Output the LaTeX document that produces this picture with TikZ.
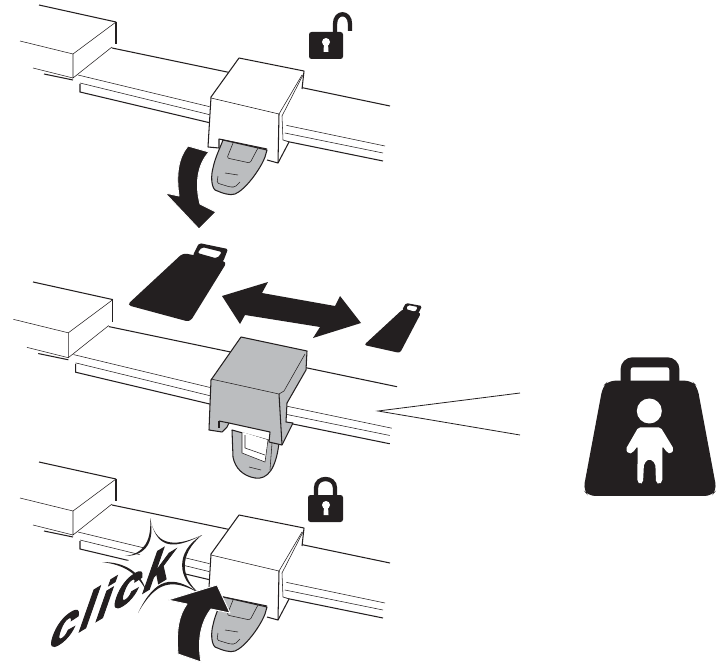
\documentclass[tikz,border=0pt]{standalone}
\usepackage{fontspec}
\setmainfont{Liberation Sans}
\newfontfamily\clickfont[LetterSpace=8,BoldFeatures={FakeBold=2.6,LetterSpace=8}]{Liberation Sans}
\definecolor{partgray}{HTML}{BBBDBF}
\definecolor{ink}{HTML}{231F20}
\tikzset{
  thinline/.style={draw=ink,line width=0.55pt},
  thickline/.style={draw=ink,line width=1.05pt},
  solidink/.style={fill=ink,draw=none},
  halo/.style={fill=ink,draw=white,line width=0.9pt,line join=round},
}
\newcommand{\railparts}{%
  \draw[thickline] (39,5) -- (116,22);
  \draw[thinline] (20,41) -- (73,54);
  \draw[thinline] (33,68) -- (73,78);
  \draw[thickline] (44,74) -- (73,80);
  \draw[thinline] (73,54) -- (116,22);
  \draw[thinline] (73,54) -- (73,78) -- (112,47);
  \draw[thickline] (116,22) -- (116,44);
  \draw[thickline] (112,48) -- (390,106);
  \draw[thinline] (78,75) -- (215,108);
  \draw[thinline] (80,83) -- (215,116);
  \draw[thickline] (80,84) -- (80,92) -- (215,124);
  \draw[thinline] (280,124) -- (385,146);
  \draw[thinline] (280,132) -- (383,153);
  \draw[thickline] (280,140) -- (383,161);
}
\newcommand{\whiteclamp}{%
  \fill[white] (239,58) -- (304,71) -- (302,88) -- (288,118) -- (283,140) -- (289,142) -- (278,163) -- (267,160) -- (267,149) -- (219,139) -- (219,148) -- (208,147) -- (210,98) -- cycle;
  \draw[thickline,line join=round] (211,97) -- (239,58) -- (304,71) -- (302,89);
  \draw[thickline,line join=round] (211,97) -- (208,147) -- (219,148) -- (219,139) -- (267,149);
  \draw[thickline,line join=round] (279,114) -- (278,163) -- (267,160);
  \draw[thickline,line join=round] (289,142) -- (278,163);
  \draw[thinline] (211,98) -- (279,114);
  \draw[thinline] (304,73) -- (282,116) -- (283,140) -- (289,142);
  \draw[thinline] (302,75) -- (279,114);
}
\newcommand{\grayLatch}{%
  \draw[thickline,fill=partgray,line join=round] (223,140) -- (267,150) -- (265,157) .. controls (260,170) and (245,190) .. (235,194) .. controls (230,196) and (222,193) .. (215,190) .. controls (211,186) and (211,175) .. (213,168) .. controls (215,158) and (220,148) .. (223,140) -- cycle;
  \draw[thinline,rounded corners=1.5pt] (233,143) -- (227,158) -- (250,163) -- (258,148);
  \draw[thinline] (225,173) -- (238,175);
  \draw[thinline,rounded corners=1.5pt] (218,176) -- (217,183) -- (230,187) -- (235,187) -- (240,182);
}
\begin{document}
\begin{tikzpicture}[x=1pt,y=-1pt]
\useasboundingbox (0,0) rectangle (722,666);
% --- top rack
\begin{scope}
  \railparts
  \whiteclamp
  \grayLatch
\end{scope}
\draw[halo] (188,146) -- (209,152) .. controls (197,165) and (195,185) .. (200,204) -- (216,212) -- (199,229) -- (165,193) -- (179,196) .. controls (176,175) and (178,158) .. (188,146) -- cycle;
% open padlock
\draw[ink,line width=4.3pt] (335,34) -- (335,24) .. controls (335,11) and (350,11) .. (350,24) -- (350,31);
\fill[ink,rounded corners=2.5pt] (309,32) rectangle (343,59);
\fill[white] (326,42) circle (4pt);
\fill[white] (324,43) -- (328,43) -- (328.5,52) -- (323.5,52) -- cycle;
% --- middle rack
\begin{scope}[shift={(-7.4,276.8)},scale=1.037]
  \railparts
\end{scope}
% middle latch
\draw[thickline,fill=partgray,line join=round] (232,430) -- (233,457) .. controls (235,468) and (243,476) .. (255,478) .. controls (268,480) and (276,468) .. (279,443) -- cycle;
\draw[thinline,fill=white,line join=round] (242,432) -- (242,453) -- (265,462) -- (268,440);
\fill[white] (245,437) -- (245,448) -- (265,455) -- (267,442) -- cycle;
\draw[thinline] (245,435) -- (245,448) -- (265,455);
\draw[thinline] (272,443) -- (270,470);
\draw[thinline] (249,467) -- (261,470);
% middle clamp
\draw[thickline,fill=partgray,line join=round] (211,380) -- (241,337) -- (307,351) -- (306,370) -- (287,403) -- (286,422) -- (293,423) -- (282,445) -- (269,442) -- (270,432) -- (229,423) -- (227,427) -- (222,432) -- (209,430) -- cycle;
\draw[thinline] (211,379) -- (279,394);
\draw[thinline] (305,354) -- (284,391) -- (279,394);
\draw[thickline] (219,421) -- (219,428);
\draw[thickline] (219,421) -- (229,423);
\draw[thickline] (279,394) -- (282,445);
% weights
\begin{scope}[even odd rule]
\fill[ink,rounded corners=2pt] (193,255) -- (199,243) -- (228,249) -- (223,262) -- (216,262) -- (193,257) -- cycle (197.5,253) -- (202,247) -- (222,252) -- (217,258.5) -- cycle;
\fill[ink,rounded corners=4pt] (183,253) -- (227,262) -- (190,322) -- (127,305) -- cycle;
\fill[ink,rounded corners=1.5pt] (402,310) -- (406,303) -- (422,306) -- (418,314) -- cycle (406,309) -- (408,305) -- (418,307) -- (415,312) -- cycle;
\fill[ink,rounded corners=2.5pt] (403,309) -- (421,313) -- (400,353) -- (364,345) -- cycle;
\end{scope}
% double arrow
\fill[ink] (222,296) -- (268,282) -- (262,293) -- (335,306) -- (340,296) -- (361,323) -- (313,338) -- (320,327) -- (245,315) -- (240,324) -- cycle;
% pointer
\coordinate (ptip) at (378,411);
\coordinate (pa) at (520,393);
\coordinate (pb) at (520,435);
\draw[thickline,line width=0.8pt] (pa) -- (ptip) -- (pb);
% big weight with child
\begin{scope}[shift={(570,340)},x=0.3333pt,y=-0.3333pt]
  \draw[ink,line width=10pt,rounded corners=7pt] (167,125) -- (167,67) -- (313,67) -- (313,125);
  \fill[ink,rounded corners=7pt] (115,122) -- (365,122) -- (382,140) -- (440,450) -- (425,468) -- (55,468) -- (40,450) -- (98,140) -- cycle;
  \fill[white] (238,213) circle (12.5pt);
  \fill[white,rounded corners=2pt] (205,262) -- (272,262) -- (312,328) -- (302,342) -- (292,338) -- (277,318) -- (277,425) -- (268,433) -- (258,428) -- (256,370) -- (238,356) -- (222,370) -- (219,428) -- (210,433) -- (202,425) -- (203,318) -- (188,338) -- (176,342) -- (167,328) -- cycle;
\end{scope}
% --- bottom rack
\begin{scope}[shift={(0,457)}]
  \railparts
  \whiteclamp
  \grayLatch
\end{scope}
% closed padlock
\draw[ink,line width=4.3pt] (316,497) -- (316,488) .. controls (316,476) and (335,476) .. (335,488) -- (335,497);
\fill[ink,rounded corners=2.5pt] (308,495) rectangle (343,522);
\fill[white] (326,505) circle (4pt);
\fill[white] (324,506) -- (328,506) -- (328.5,515) -- (323.5,515) -- cycle;
% click star
\fill[white] (150,518) .. controls (158,548) and (170,552) .. (202,535) .. controls (176,552) and (178,580) .. (199,593) .. controls (172,574) and (155,578) .. (138,613) .. controls (146,580) and (135,568) .. (102,562) .. controls (135,566) and (155,552) .. (150,518) -- cycle;
\fill[ink] (150,518) .. controls (156,546) and (170,552) .. (202,535) .. controls (172,549) and (155,544) .. (150,518) -- cycle;
\fill[ink] (202,535) .. controls (174,552) and (178,580) .. (199,593) .. controls (181,578) and (178,555) .. (202,535) -- cycle;
\fill[ink] (199,593) .. controls (172,574) and (155,578) .. (138,613) .. controls (156,581) and (172,578) .. (199,593) -- cycle;
\fill[ink] (102,562) .. controls (125,562) and (140,572) .. (146,590) .. controls (136,573) and (125,565) .. (102,562) -- cycle;
\fill[ink] (150,518) .. controls (155,540) and (147,556) .. (125,556) .. controls (144,554) and (152,540) .. (150,518) -- cycle;
% click text
\node[cm={0.84,0.51,0.36,1.03,(46,652)},inner sep=0pt,anchor=base west,transform shape,text=ink] (clicktext) {\fontsize{56pt}{56pt}\selectfont\clickfont\bfseries click};
% arrow up
\draw[halo] (178,654) .. controls (176,630) and (179,615) .. (187,604) -- (168,600) -- (217,585) -- (230,613) -- (211,609) .. controls (201,622) and (197,640) .. (201,662) -- cycle;
\end{tikzpicture}
\end{document}
